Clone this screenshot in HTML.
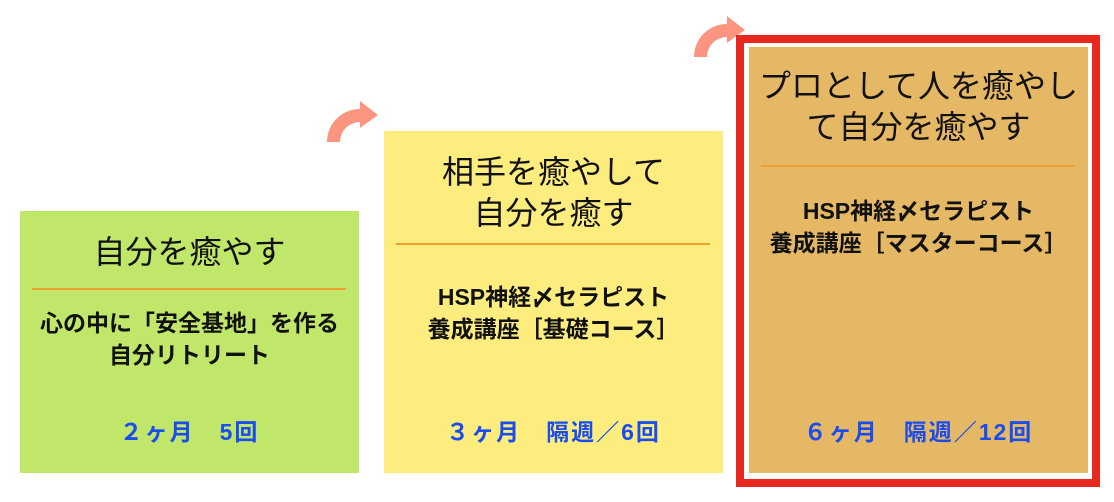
<!DOCTYPE html>
<html><head><meta charset="utf-8"><style>
body{margin:0;width:1114px;height:502px;background:#fff;position:relative;overflow:hidden;font-family:"Liberation Sans","Noto Sans CJK JP",sans-serif;}
.b{position:absolute;}
.t{position:absolute;left:0;right:0;text-align:center;white-space:nowrap;}
.ti{font-size:32px;color:#111;line-height:41px;}
.bd{font-size:23px;font-weight:bold;color:#111;line-height:32px;}
.bl{font-size:23px;font-weight:bold;color:#1a4cf0;line-height:30px;letter-spacing:2px;}
.ln{position:absolute;height:2px;background:#f0a030;}
</style></head><body>
<svg class="b" style="left:0;top:0" width="1114" height="502">
<path d="M327,142 A33,33 0 0 1 360,109 L360,101 L378,115 L360,128 L360,122 A20,20 0 0 0 340,142 Z" fill="#fc9580"/>
<path d="M694,57 A33,33 0 0 1 727,24 L727,16 L745,30 L727,43 L727,37 A20,20 0 0 0 707,57 Z" fill="#fc9580"/>
</svg>
<div class="b" style="left:20px;top:211px;width:339px;height:262px;background:#c0e66a">
 <div class="t ti" style="top:21px">自分を癒やす</div>
 <div class="ln" style="left:12px;width:314px;top:77px"></div>
 <div class="t bd" style="top:96px">心の中に「安全基地」を作る<br>自分リトリート</div>
 <div class="t bl" style="top:206px">２ヶ月　5回</div>
</div>
<div class="b" style="left:384px;top:131px;width:339px;height:342px;background:#fdec7e">
 <div class="t ti" style="top:21px">相手を癒やして<br>自分を癒す</div>
 <div class="ln" style="left:12px;width:314px;top:112px"></div>
 <div class="t bd" style="top:150px">HSP神経〆セラピスト<br>養成講座［基礎コース］</div>
 <div class="t bl" style="top:286px">３ヶ月　隔週／6回</div>
</div>
<div class="b" style="left:736px;top:35px;width:348px;height:436px;border:8px solid #e8271f;background:#fff"></div>
<div class="b" style="left:749px;top:47px;width:339px;height:426px;background:#e5b865">
 <div class="t ti" style="top:19px;left:-10px;right:-10px">プロとして人を癒やし<br>て自分を癒やす</div>
 <div class="ln" style="left:12px;width:314px;top:118px"></div>
 <div class="t bd" style="top:148px">HSP神経〆セラピスト<br>養成講座［マスターコース］</div>
 <div class="t bl" style="top:370px">６ヶ月　隔週／12回</div>
</div>
</body></html>
